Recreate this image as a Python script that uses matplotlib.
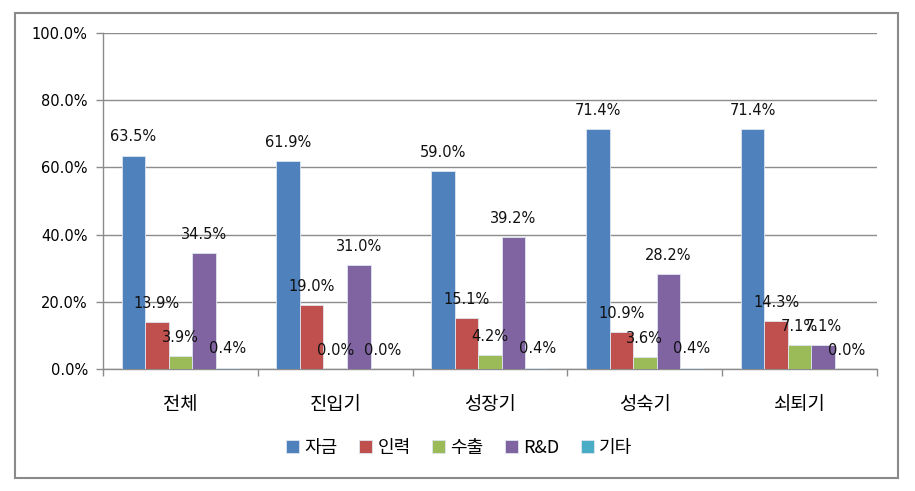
import matplotlib
matplotlib.use('Agg')
import matplotlib.pyplot as plt
from matplotlib.patches import Rectangle
from matplotlib.ticker import FuncFormatter, FixedLocator
import numpy as np

plt.rcParams['font.family'] = ['DejaVu Sans', 'Noto Sans CJK KR']

categories = ['전체', '진입기', '성장기', '성숙기', '쇠퇴기']
series_names = ['자금', '인력', '수출', 'R&D', '기타']
fund = [63.5, 61.9, 59.0, 71.4, 71.4]
labor = [13.9, 19.0, 15.1, 10.9, 14.3]
export = [3.9, 0.0, 4.2, 3.6, 7.1]
rnd = [34.5, 31.0, 39.2, 28.2, 7.1]
etc = [0.4, 0.0, 0.4, 0.4, 0.0]
series = [fund, labor, export, rnd, etc]
colors = ['#4F81BD', '#C0504D', '#9BBB59', '#8064A2', '#4BACC6']

fig = plt.figure(figsize=(9.15, 4.91), dpi=100)
ax = fig.add_axes([0.1126, 0.2485, 0.8459, 0.6843])

# 바깥 테두리
fig.patches.append(Rectangle((0.0164, 0.0265), 0.965, 0.947, transform=fig.transFigure,
                             fill=False, edgecolor='#8a8a8a', linewidth=1.5))

x = np.arange(len(categories))
w = 0.152
for i, (name, vals, c) in enumerate(zip(series_names, series, colors)):
    pos = x + (i - 2) * w
    ax.bar(pos, vals, width=w, color=c, edgecolor='#dfe6f0', linewidth=0.6,
           label=name, zorder=3)
    for p, v in zip(pos, vals):
        ax.annotate('%.1f%%' % v, (p, v), xytext=(0, 13.5), textcoords='offset points',
                    ha='center', va='center', fontsize=10.5, color='#111111', zorder=4)

ax.set_xlim(-0.5, len(categories) - 0.5)
ax.set_ylim(0, 100)
ax.set_yticks(np.arange(0, 101, 20))
ax.yaxis.set_major_formatter(FuncFormatter(lambda v, p: '%.1f%%' % v))
ax.yaxis.grid(True, color='#8c8c8c', linewidth=1, zorder=0)

ax.xaxis.set_major_locator(FixedLocator(np.arange(-0.5, len(categories), 1)))
ax.xaxis.set_major_formatter(FuncFormatter(lambda v, p: ''))
ax.xaxis.set_minor_locator(FixedLocator(x))
ax.set_xticklabels(categories, minor=True, fontsize=13.5, family=['Noto Sans CJK KR', 'DejaVu Sans'])
ax.tick_params(axis='x', which='minor', length=0, pad=18)
ax.tick_params(axis='x', which='major', length=5, color='#8c8c8c', width=1)
ax.tick_params(axis='y', length=5, color='#8c8c8c', width=1, labelsize=10.5, pad=6)

for s in ['top', 'right']:
    ax.spines[s].set_visible(False)
for s in ['left', 'bottom']:
    ax.spines[s].set_color('#8c8c8c')
    ax.spines[s].set_linewidth(1)

fig.legend(loc='center', bbox_to_anchor=(0.502, 0.088), ncol=5, frameon=False,
           handlelength=0.7, handleheight=0.7, handletextpad=0.3, columnspacing=1.2,
           prop={'family': ['Noto Sans CJK KR', 'DejaVu Sans'], 'size': 13})

fig.savefig('out.png', dpi=100)
